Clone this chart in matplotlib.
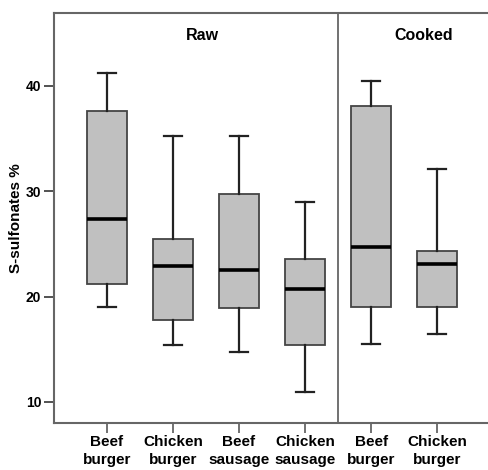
import matplotlib
matplotlib.use("Agg")
from matplotlib import pyplot as plt

plt.rcParams['font.family'] = ['Liberation Sans', 'DejaVu Sans']
plt.rcParams['font.weight'] = 'bold'

labels = ['Beef\nburger', 'Chicken\nburger', 'Beef\nsausage', 'Chicken\nsausage', 'Beef\nburger', 'Chicken\nburger']
whislo = [19.0, 15.45, 14.7, 10.95, 15.5, 16.4]
q1 = [21.2, 17.75, 18.9, 15.45, 19.0, 19.0]
med = [27.4, 22.9, 22.5, 20.7, 24.7, 23.1]
q3 = [37.6, 25.5, 29.7, 23.6, 38.1, 24.3]
whishi = [41.25, 35.2, 35.2, 29.0, 40.5, 32.1]

stats = []
for i in range(len(labels)):
    stats.append({'label': labels[i], 'whislo': whislo[i], 'q1': q1[i], 'med': med[i],
                  'q3': q3[i], 'whishi': whishi[i], 'fliers': []})

fig = plt.figure(figsize=(4.89, 4.70), dpi=100)
ax = fig.add_axes([0.110, 0.100, 0.892, 0.872])

edge = '#444444'
ax.bxp(stats, positions=range(1, 7), widths=0.6, capwidths=0.27, patch_artist=True, showfliers=False,
       boxprops=dict(facecolor='#c0c0c0', edgecolor=edge, linewidth=1.3),
       whiskerprops=dict(color='#222222', linewidth=1.6),
       capprops=dict(color='#222222', linewidth=1.6),
       medianprops=dict(color='black', linewidth=2.6))

# divider between raw and cooked
ax.axvline(4.5, color='#666666', linewidth=1.3)

ax.text(2.45, 44.8, 'Raw', ha='center', va='center', fontsize=11.5, fontweight='bold')
ax.text(5.79, 44.8, 'Cooked', ha='center', va='center', fontsize=11.5, fontweight='bold')

ax.set_xlim(0.197, 6.80)
ax.set_ylim(8.0, 46.9)
ax.set_yticks([10, 20, 30, 40])
ax.set_xticks(range(1, 7))
ax.set_xticklabels(labels, fontsize=11, fontweight='bold', linespacing=1.3)
ax.tick_params(axis='y', labelsize=10, length=7, width=1.3, color='#444444', pad=2)
ax.tick_params(axis='x', length=7, width=1.3, color='#666666', pad=2)
ax.set_ylabel('S-sulfonates %', fontsize=11, fontweight='bold', labelpad=2)

for s in ['left', 'bottom', 'top']:
    ax.spines[s].set_color('#666666')
    ax.spines[s].set_linewidth(1.5)
ax.spines['right'].set_visible(False)

fig.savefig('out.png', dpi=100)
